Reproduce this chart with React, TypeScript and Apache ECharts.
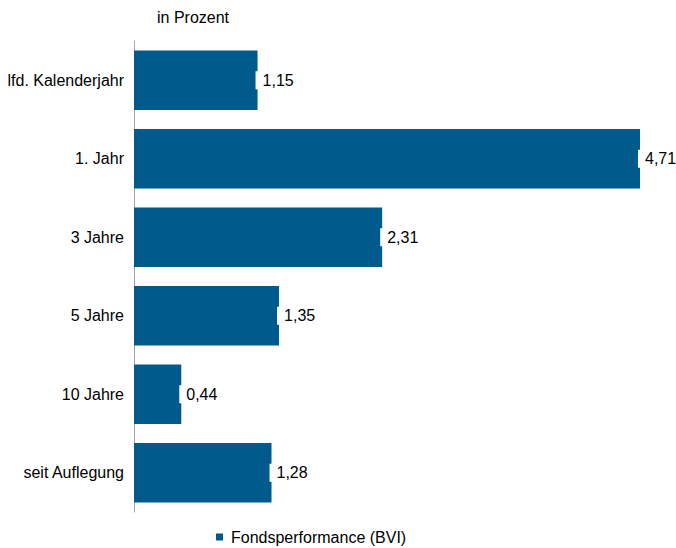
import React, { useEffect, useRef } from "react";
import * as echarts from "echarts";

const categories = ["lfd. Kalenderjahr", "1. Jahr", "3 Jahre", "5 Jahre", "10 Jahre", "seit Auflegung"];
const values = [1.15, 4.71, 2.31, 1.35, 0.44, 1.28];
const seriesName = "Fondsperformance (BVI)";
const unitLabel = "in Prozent";

export default function App() {
  const ref = useRef<HTMLDivElement>(null);
  useEffect(() => {
    const chart = echarts.init(ref.current!, null, { renderer: "svg" });
    const font = "'Liberation Sans', Arial, sans-serif";
    chart.setOption({
      animation: false,
      textStyle: { fontFamily: font },
      title: {
        text: unitLabel,
        left: 157,
        top: 9,
        padding: 0,
        textStyle: { fontSize: 16, fontWeight: "normal", color: "#000", fontFamily: font },
      },
      legend: {
        data: [seriesName],
        bottom: 3,
        left: 216,
        padding: 0,
        icon: "rect",
        itemWidth: 7,
        itemHeight: 7,
        itemGap: 6,
        textStyle: { fontSize: 16, color: "#000", fontFamily: font, padding: [0, 0, 0, 3] },
      },
      grid: { left: 134, right: 36, top: 41, bottom: 36, containLabel: false },
      xAxis: {
        type: "value",
        min: 0,
        max: 4.71,
        show: false,
      },
      yAxis: {
        type: "category",
        data: categories,
        inverse: true,
        axisLine: { show: true, lineStyle: { color: "#a6a6a6", width: 1 } },
        axisTick: { show: false },
        axisLabel: { fontSize: 16, color: "#000", margin: 10, fontFamily: font },
      },
      series: [
        {
          name: seriesName,
          type: "bar",
          data: values,
          barCategoryGap: "24%",
          itemStyle: { color: "#005b8c" },
          label: {
            show: true,
            position: "right",
            distance: -2,
            backgroundColor: "#fff",
            padding: [1, 2, 1, 7],
            fontSize: 16,
            color: "#000",
            fontFamily: font,
            formatter: (p: any) => p.value.toFixed(2).replace(".", ","),
          },
        },
      ],
    });
    return () => chart.dispose();
  }, []);
  return <div ref={ref} style={{ position: "absolute", left: 0, top: 0, width: 676, height: 548 }} />;
}
